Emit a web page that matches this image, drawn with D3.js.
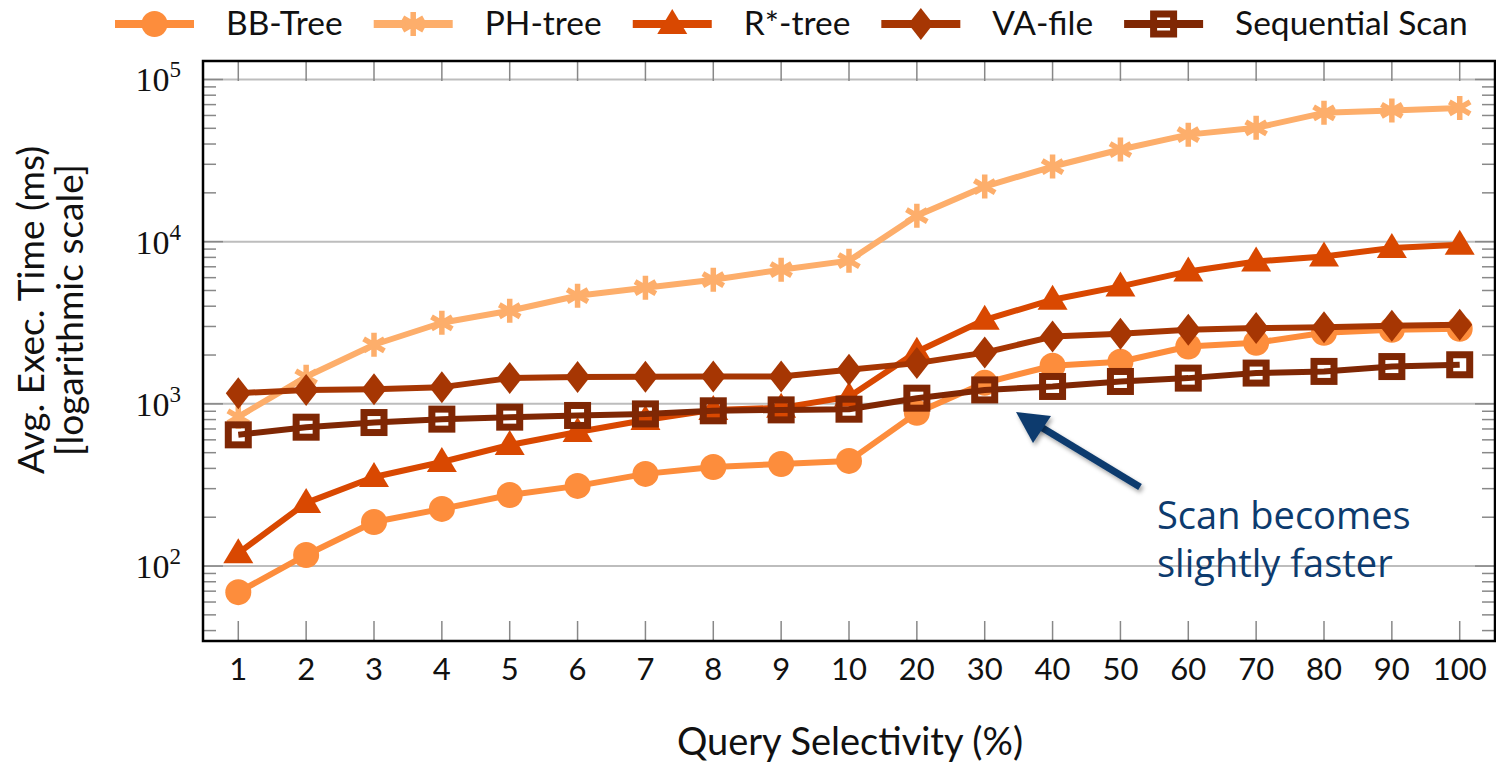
<!DOCTYPE html>
<html>
<head>
<meta charset="utf-8">
<script src="https://cdn.jsdelivr.net/npm/d3@7"></script>
<style>
  body { margin: 0; background: #fff; }
  svg text { font-family: Lato, "Open Sans", sans-serif; fill: #111; }
</style>
</head>
<body>
<svg id="chart" width="1496" height="762"></svg>
<script>
// query selectivity (%) categories
var categories = ["1", "2", "3", "4", "5", "6", "7", "8", "9", "10", "20", "30", "40", "50", "60", "70", "80", "90", "100"];

// avg exec time (ms)
var bbTree    = [69, 117, 187, 225, 274, 312, 370, 408, 426, 445, 880, 1348, 1718, 1817, 2259, 2383, 2742, 2864, 2905];
var phTree    = [832, 1468, 2314, 3162, 3750, 4642, 5200, 5825, 6715, 7640, 14450, 21860, 29060, 37000, 45700, 50350, 62270, 64400, 66800];
var rStarTree = [120, 245, 354, 438, 558, 671, 796, 918, 945, 1105, 2094, 3300, 4386, 5300, 6555, 7550, 8110, 9140, 9570];
var vaFile    = [1164, 1219, 1232, 1268, 1441, 1462, 1470, 1475, 1475, 1622, 1783, 2070, 2600, 2703, 2864, 2931, 2972, 3027, 3076];
var seqScan   = [644, 718, 767, 805, 828, 848, 867, 906, 918, 927, 1084, 1219, 1280, 1374, 1441, 1548, 1585, 1698, 1742];

var seriesNames = ["BB-Tree", "PH-tree", "R*-tree", "VA-file", "Sequential Scan"];
var yTicks = [100, 1000, 10000, 100000];

var series = [
  {name: seriesNames[0], values: bbTree,    color: "#fd8d3c", mark: "circle"},
  {name: seriesNames[1], values: phTree,    color: "#fdae6b", mark: "asterisk"},
  {name: seriesNames[2], values: rStarTree, color: "#d94801", mark: "triangle"},
  {name: seriesNames[3], values: vaFile,    color: "#a63603", mark: "diamond"},
  {name: seriesNames[4], values: seqScan,   color: "#7f2704", mark: "square"}
];

var pLeft = 203, pRight = 1495, pTop = 61, pBottom = 641;
var svg = d3.select("#chart");

var x = d3.scalePoint().domain(categories).range([pLeft, pRight]).padding(0.52);
var y = d3.scaleLog().domain([34.5, 130000]).range([pBottom, pTop]);

var defs = svg.append("defs");
var f = defs.append("filter").attr("id", "shadow").attr("x", "-20%").attr("y", "-20%").attr("width", "140%").attr("height", "140%");
f.append("feDropShadow").attr("dx", 2).attr("dy", 3).attr("stdDeviation", 2).attr("flood-opacity", 0.35);
defs.append("clipPath").attr("id", "plotclip")
  .append("rect").attr("x", pLeft).attr("y", pTop).attr("width", pRight - pLeft).attr("height", pBottom - pTop);

// grid lines at decades
svg.append("g").selectAll("line").data(yTicks).enter().append("line")
  .attr("x1", pLeft).attr("x2", pRight)
  .attr("y1", function(d) { return y(d); }).attr("y2", function(d) { return y(d); })
  .attr("stroke", "#bdbdbd").attr("stroke-width", 2);

// minor / major y ticks on both sides, inside
var minor = [];
for (var e = 1; e <= 5; e++) {
  for (var m = 1; m <= 9; m++) {
    var v = m * Math.pow(10, e);
    if (v >= 34.5 && v <= 130000) minor.push(v);
  }
}
var tickG = svg.append("g").attr("stroke", "#888").attr("stroke-width", 1.5);
minor.forEach(function(v) {
  var len = yTicks.indexOf(v) >= 0 ? 20 : 13;
  tickG.append("line").attr("x1", pLeft).attr("x2", pLeft + len).attr("y1", y(v)).attr("y2", y(v));
  tickG.append("line").attr("x1", pRight).attr("x2", pRight - len).attr("y1", y(v)).attr("y2", y(v));
});
// x ticks top and bottom
categories.forEach(function(c) {
  tickG.append("line").attr("x1", x(c)).attr("x2", x(c)).attr("y1", pBottom).attr("y2", pBottom - 20);
  tickG.append("line").attr("x1", x(c)).attr("x2", x(c)).attr("y1", pTop).attr("y2", pTop + 20);
});

function drawMark(g, mark, color) {
  if (mark == "circle") {
    g.append("circle").attr("r", 13).attr("fill", color);
  } else if (mark == "triangle") {
    g.append("path").attr("d", "M0,-15L15,10L-15,10Z").attr("fill", color);
  } else if (mark == "diamond") {
    g.append("path").attr("d", "M0,-16L12.5,0L0,16L-12.5,0Z").attr("fill", color);
  } else if (mark == "square") {
    g.append("rect").attr("x", -10).attr("y", -10).attr("width", 20).attr("height", 20)
      .attr("fill", "none").attr("stroke", color).attr("stroke-width", 7);
  } else if (mark == "asterisk") {
    var r = 12, a = r * Math.cos(Math.PI / 6), b = r * Math.sin(Math.PI / 6);
    g.append("path")
      .attr("d", "M0,-" + r + "L0," + r + "M-" + a + ",-" + b + "L" + a + "," + b + "M-" + a + "," + b + "L" + a + ",-" + b)
      .attr("stroke", color).attr("stroke-width", 5.5).attr("fill", "none");
  }
}

var line = d3.line()
  .x(function(d, i) { return x(categories[i]); })
  .y(function(d) { return y(d); });

var plot = svg.append("g").attr("clip-path", "url(#plotclip)");
series.forEach(function(s) {
  plot.append("path").datum(s.values)
    .attr("d", line)
    .attr("fill", "none").attr("stroke", s.color).attr("stroke-width", 6)
    .attr("stroke-linejoin", "round");
  s.values.forEach(function(v, i) {
    var g = plot.append("g").attr("transform", "translate(" + x(categories[i]) + "," + y(v) + ")");
    drawMark(g, s.mark, s.color);
  });
});

// frame
svg.append("rect").attr("x", pLeft).attr("y", pTop).attr("width", pRight - pLeft).attr("height", pBottom - pTop)
  .attr("fill", "none").attr("stroke", "#000").attr("stroke-width", 2.5);

// y tick labels: 10^k
yTicks.forEach(function(v) {
  var t = svg.append("text")
    .attr("x", 181).attr("y", y(v) + 12)
    .attr("text-anchor", "end")
    .style("font-family", "'Liberation Serif', 'DejaVu Serif', serif")
    .style("font-size", "34px");
  t.append("tspan").text("10");
  t.append("tspan").attr("dy", -14).style("font-size", "23px").text(String(Math.round(Math.log10(v))));
});

// x tick labels
svg.append("g").selectAll("text").data(categories).enter().append("text")
  .attr("x", function(d) { return x(d); }).attr("y", 680)
  .attr("text-anchor", "middle")
  .style("font-size", "31px")
  .text(function(d) { return d; });

// axis titles
svg.append("text").attr("x", (pLeft + pRight) / 2 + 1).attr("y", 755)
  .attr("text-anchor", "middle").style("font-size", "38px")
  .text("Query Selectivity (%)");

var yt = svg.append("text").attr("transform", "translate(44,310) rotate(-90)")
  .attr("text-anchor", "middle").style("font-size", "37px");
yt.append("tspan").attr("x", 0).attr("y", 0).text("Avg. Exec. Time (ms)");
yt.append("tspan").attr("x", 0).attr("y", 39).text("[logarithmic scale]");

// legend
var lx = 115;
series.forEach(function(s) {
  var g = svg.append("g");
  g.append("line").attr("x1", lx).attr("x2", lx + 79).attr("y1", 24).attr("y2", 24)
    .attr("stroke", s.color).attr("stroke-width", 8);
  var mg = g.append("g").attr("transform", "translate(" + (lx + 39.5) + ",24)");
  drawMark(mg, s.mark, s.color);
  var t = g.append("text").attr("x", lx + 111).attr("y", 35).style("font-size", "33.5px").text(s.name);
  lx = lx + 111 + t.node().getComputedTextLength() + 31;
});

// annotation
svg.append("line")
  .attr("x1", 1140).attr("y1", 487).attr("x2", 1036).attr("y2", 424)
  .attr("stroke", "#0d3b6e").attr("stroke-width", 7).attr("filter", "url(#shadow)");
svg.append("path")
  .attr("d", "M1016,412L1051,416L1033,443Z")
  .attr("fill", "#0d3b6e").attr("filter", "url(#shadow)");
var ann = svg.append("text").style("font-family", "'Open Sans', sans-serif").style("font-size", "38px");
ann.append("tspan").attr("x", 1157).attr("y", 529).style("fill", "#0d3b6e").text("Scan becomes");
ann.append("tspan").attr("x", 1157).attr("y", 577).style("fill", "#0d3b6e").text("slightly faster");
</script>
</body>
</html>
